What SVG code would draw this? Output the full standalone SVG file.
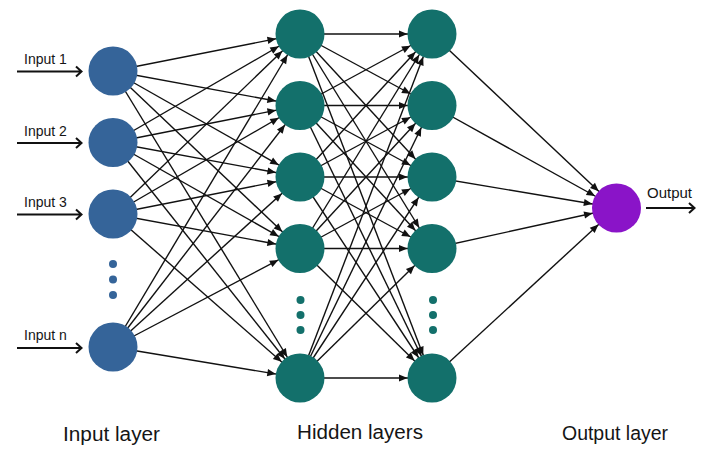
<svg xmlns="http://www.w3.org/2000/svg" width="713" height="459" viewBox="0 0 713 459">
<style>
.c{stroke:#111;stroke-width:1.4;fill:none;marker-end:url(#ah)}
.in{fill:#356499}
.hd{fill:#13706b}
.out{fill:#8a14c8}
.lbl{font-family:"Liberation Sans",Arial,sans-serif;fill:#151515}
.small{font-size:14px}
.big{font-size:19.5px}
.ia{stroke:#111;stroke-width:2;fill:none}
</style>
<defs>
<marker id="ah" markerUnits="userSpaceOnUse" markerWidth="1" markerHeight="1" refX="0" refY="0" orient="auto" overflow="visible" style="overflow:visible">
<path d="M-33,-3.6 L-24.5,0 L-33,3.6 z" fill="#111"/>
</marker>
</defs>
<rect width="713" height="459" fill="#fff"/>
<g id="connectors">
<line class="c" x1="113" y1="71" x2="300" y2="34"/>
<line class="c" x1="113" y1="71" x2="300" y2="105.5"/>
<line class="c" x1="113" y1="71" x2="300" y2="177"/>
<line class="c" x1="113" y1="71" x2="300" y2="248.5"/>
<line class="c" x1="113" y1="71" x2="300" y2="378"/>
<line class="c" x1="113" y1="142.5" x2="300" y2="34"/>
<line class="c" x1="113" y1="142.5" x2="300" y2="105.5"/>
<line class="c" x1="113" y1="142.5" x2="300" y2="177"/>
<line class="c" x1="113" y1="142.5" x2="300" y2="248.5"/>
<line class="c" x1="113" y1="142.5" x2="300" y2="378"/>
<line class="c" x1="113" y1="214" x2="300" y2="34"/>
<line class="c" x1="113" y1="214" x2="300" y2="105.5"/>
<line class="c" x1="113" y1="214" x2="300" y2="177"/>
<line class="c" x1="113" y1="214" x2="300" y2="248.5"/>
<line class="c" x1="113" y1="214" x2="300" y2="378"/>
<line class="c" x1="113" y1="347" x2="300" y2="34"/>
<line class="c" x1="113" y1="347" x2="300" y2="105.5"/>
<line class="c" x1="113" y1="347" x2="300" y2="177"/>
<line class="c" x1="113" y1="347" x2="300" y2="248.5"/>
<line class="c" x1="113" y1="347" x2="300" y2="378"/>

<line class="c" x1="300" y1="34" x2="432" y2="34"/>
<line class="c" x1="300" y1="34" x2="432" y2="105.5"/>
<line class="c" x1="300" y1="34" x2="432" y2="177"/>
<line class="c" x1="300" y1="34" x2="432" y2="248.5"/>
<line class="c" x1="300" y1="34" x2="432" y2="378"/>
<line class="c" x1="300" y1="105.5" x2="432" y2="34"/>
<line class="c" x1="300" y1="105.5" x2="432" y2="105.5"/>
<line class="c" x1="300" y1="105.5" x2="432" y2="177"/>
<line class="c" x1="300" y1="105.5" x2="432" y2="248.5"/>
<line class="c" x1="300" y1="105.5" x2="432" y2="378"/>
<line class="c" x1="300" y1="177" x2="432" y2="34"/>
<line class="c" x1="300" y1="177" x2="432" y2="105.5"/>
<line class="c" x1="300" y1="177" x2="432" y2="177"/>
<line class="c" x1="300" y1="177" x2="432" y2="248.5"/>
<line class="c" x1="300" y1="177" x2="432" y2="378"/>
<line class="c" x1="300" y1="248.5" x2="432" y2="34"/>
<line class="c" x1="300" y1="248.5" x2="432" y2="105.5"/>
<line class="c" x1="300" y1="248.5" x2="432" y2="177"/>
<line class="c" x1="300" y1="248.5" x2="432" y2="248.5"/>
<line class="c" x1="300" y1="248.5" x2="432" y2="378"/>
<line class="c" x1="300" y1="378" x2="432" y2="34"/>
<line class="c" x1="300" y1="378" x2="432" y2="105.5"/>
<line class="c" x1="300" y1="378" x2="432" y2="177"/>
<line class="c" x1="300" y1="378" x2="432" y2="248.5"/>
<line class="c" x1="300" y1="378" x2="432" y2="378"/>

<line class="c" x1="432" y1="34" x2="616.5" y2="208"/>
<line class="c" x1="432" y1="105.5" x2="616.5" y2="208"/>
<line class="c" x1="432" y1="177" x2="616.5" y2="208"/>
<line class="c" x1="432" y1="248.5" x2="616.5" y2="208"/>
<line class="c" x1="432" y1="378" x2="616.5" y2="208"/>

<g id="input-arrows">
<path class="ia" d="M17,71.5 H81 M76,66.5 L81.5,71.5 L76,76.5"/>
<path class="ia" d="M17,143 H81 M76,138 L81.5,143 L76,148"/>
<path class="ia" d="M17,214.5 H81 M76,209.5 L81.5,214.5 L76,219.5"/>
<path class="ia" d="M17,348 H81 M76,343 L81.5,348 L76,353"/>
<path class="ia" d="M646,208 H694 M689,203 L694.5,208 L689,213"/>
</g>
</g>

<g id="input1"><circle class="in" cx="113" cy="71" r="24.5"/><text class="lbl small" x="24" y="64">Input 1</text></g>
<g id="input2"><circle class="in" cx="113" cy="142.5" r="24.5"/><text class="lbl small" x="24" y="135.5">Input 2</text></g>
<g id="input3"><circle class="in" cx="113" cy="214" r="24.5"/><text class="lbl small" x="24" y="207">Input 3</text></g>
<g id="inputn"><circle class="in" cx="113" cy="347" r="24.5"/><text class="lbl small" x="24" y="340">Input n</text></g>
<g id="input-dots" class="in"><circle cx="113" cy="264" r="4"/><circle cx="113" cy="279.5" r="4"/><circle cx="113" cy="295" r="4"/></g>

<g id="h1n1"><circle class="hd" cx="300" cy="34" r="24.5"/></g>
<g id="h1n2"><circle class="hd" cx="300" cy="105.5" r="24.5"/></g>
<g id="h1n3"><circle class="hd" cx="300" cy="177" r="24.5"/></g>
<g id="h1n4"><circle class="hd" cx="300" cy="248.5" r="24.5"/></g>
<g id="h1n5"><circle class="hd" cx="300" cy="378" r="24.5"/></g>
<g id="h1-dots" class="hd"><circle cx="300.5" cy="300" r="4"/><circle cx="300.5" cy="315" r="4"/><circle cx="300.5" cy="330" r="4"/></g>

<g id="h2n1"><circle class="hd" cx="432" cy="34" r="24.5"/></g>
<g id="h2n2"><circle class="hd" cx="432" cy="105.5" r="24.5"/></g>
<g id="h2n3"><circle class="hd" cx="432" cy="177" r="24.5"/></g>
<g id="h2n4"><circle class="hd" cx="432" cy="248.5" r="24.5"/></g>
<g id="h2n5"><circle class="hd" cx="432" cy="378" r="24.5"/></g>
<g id="h2-dots" class="hd"><circle cx="433" cy="300" r="4"/><circle cx="433" cy="315" r="4"/><circle cx="433" cy="330" r="4"/></g>

<g id="output"><circle class="out" cx="616.5" cy="208" r="24.5"/><text class="lbl" style="font-size:15px" x="647" y="198">Output</text></g>

<g id="layer-labels">
<text class="lbl big" x="63" y="441" textLength="97" lengthAdjust="spacingAndGlyphs">Input layer</text>
<text class="lbl big" x="297" y="439" textLength="126" lengthAdjust="spacingAndGlyphs">Hidden layers</text>
<text class="lbl big" x="562" y="440" textLength="106" lengthAdjust="spacingAndGlyphs">Output layer</text>
</g>
</svg>
